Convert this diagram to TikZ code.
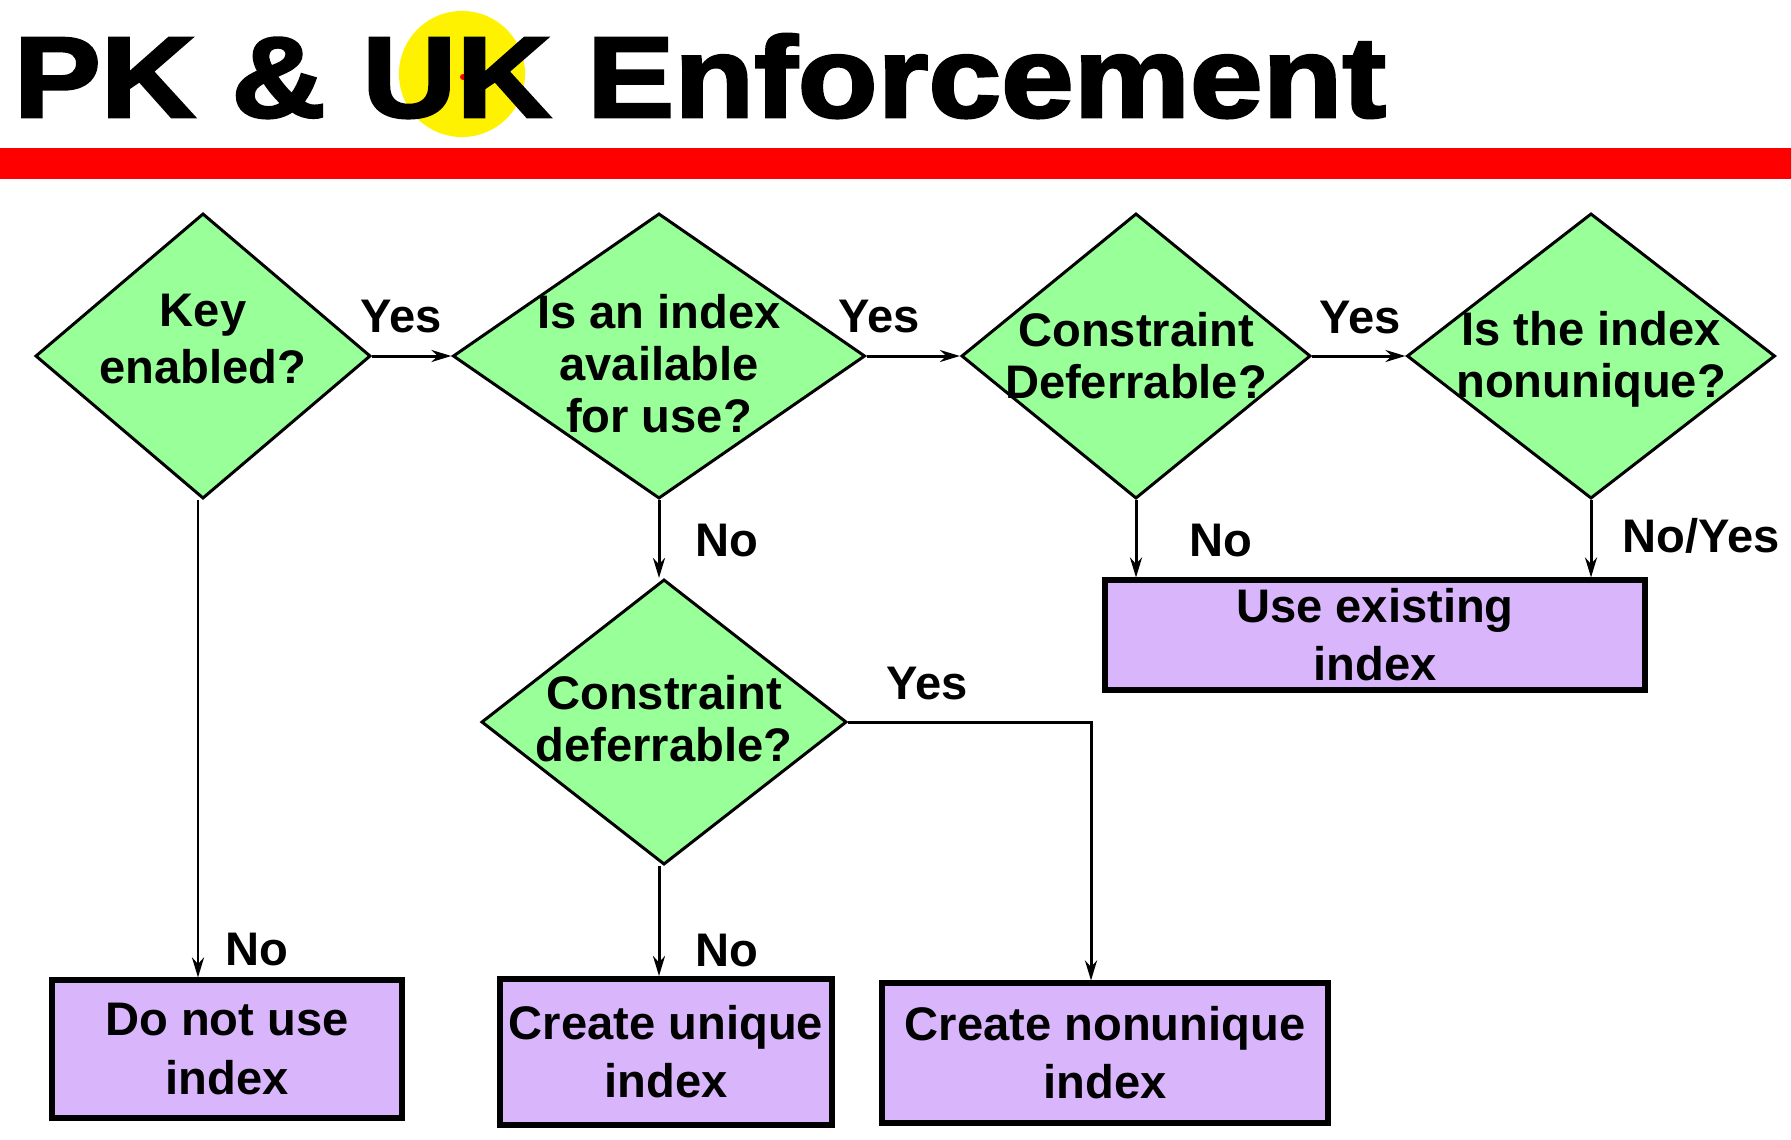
\documentclass[tikz,border=0pt]{standalone}
\usepackage{fontspec}
\setmainfont{Liberation Sans}
\newfontfamily\titlefont{Liberation Sans}[FakeStretch=1.14, BoldFeatures={FakeBold=2.5}]
\usepackage{xcolor}
\usetikzlibrary{shapes.geometric,arrows.meta,positioning}

\definecolor{qgreen}{RGB}{153,255,153}
\definecolor{apurple}{RGB}{217,181,252}

\begin{document}
\begin{tikzpicture}[
    x=0.01cm, y=-0.01cm,
    question/.style={draw, diamond, fill=qgreen, line width=0.85pt, inner sep=0pt, minimum height=2.85cm},
    qtext/.style={shape=rectangle, draw=none, fill=none, minimum size=0pt, align=center, inner sep=0pt, font=\fontsize{13.4}{14.8}\selectfont\bfseries},
    action/.style={draw, rectangle, fill=apurple, line width=1.7pt, align=center, inner sep=0pt, font=\fontsize{13.4}{16.5}\selectfont\bfseries},
    lbl/.style={inner sep=0pt, font=\fontsize{13.4}{16}\selectfont\bfseries},
    arrow/.style={-{Stealth[length=0.2cm,width=0.12cm]}, line width=0.85pt}
]
    \fill[white] (0,0) rectangle (1791,1139);
    \useasboundingbox (0,0) rectangle (1791,1139);

    % title
    \fill[yellow] (462,74) circle[radius=0.63cm];
    \fill[red] (463,77) circle[radius=0.03cm];
    \node[anchor=base west, inner sep=0pt, font=\titlefont\fontsize{32.6}{36}\selectfont\bfseries] (title) at (13,117) {PK \& UK Enforcement};
    \fill[red] (0,148) rectangle (1791,179);

    % decisions
    \node[question, minimum width=3.35cm, label={[qtext, font=\fontsize{13.4}{16}\selectfont\bfseries, yshift=0.17cm]center:Key\\enabled?}] (keyq) at (203,356) {};
    \node[question, minimum width=4.12cm, label={[qtext, yshift=-0.075cm]center:Is an index\\available\\for use?}] (idxq) at (659,356) {};
    \node[question, minimum width=3.49cm, label={[qtext]center:Constraint\\Deferrable?}] (defq) at (1136,356) {};
    \node[question, minimum width=3.68cm, label={[qtext, yshift=-0.03cm]center:Is the index\\nonunique?}] (nonuq) at (1591,356) {};
    \node[question, minimum width=3.65cm, label={[qtext, yshift=0.035cm]center:Constraint\\deferrable?}] (defq2) at (664,722) {};

    % actions
    \node[action, minimum width=3.5cm, minimum height=1.37cm] (noidx) at (227,1049) {Do not use\\index};
    \node[action, minimum width=3.32cm, minimum height=1.46cm] (mkuniq) at (666,1052) {Create unique\\index};
    \node[action, minimum width=4.46cm, minimum height=1.39cm] (mknonuq) at (1105,1053) {Create nonunique\\index};
    \node[action, minimum width=5.4cm, minimum height=1.09cm] (useidx) at (1375,635) {Use existing\\index};

    % connectors
    \draw[arrow] (keyq.east) -- (idxq.west);
    \draw[arrow] (idxq.east) -- (defq.west);
    \draw[arrow] (defq.east) -- (nonuq.west);
    \draw[arrow] (idxq.south) -- (idxq.south |- defq2.north);
    \draw[arrow] ([xshift=-0.05cm]keyq.south) -- ([xshift=-0.05cm]keyq.south |- noidx.north);
    \draw[arrow] ([xshift=-0.05cm]defq2.south) -- ([xshift=-0.05cm]defq2.south |- mkuniq.north);
    \coordinate (bend) at (1091,722);
    \draw[arrow] (defq2.east) -- (bend) -- (bend |- mknonuq.north);
    \draw[arrow] (defq.south) -- (defq.south |- useidx.north);
    \draw[arrow] (nonuq.south) -- (nonuq.south |- useidx.north);

    % branch labels
    \node[lbl] (yes1) at (401,317) {Yes};
    \node[lbl] (yes2) at (879,317) {Yes};
    \node[lbl] (yes3) at (1360,318) {Yes};
    \node[lbl] (yes4) at (927,684) {Yes};
    \node[lbl] (no1) at (257,950) {No};
    \node[lbl] (no2) at (727,541) {No};
    \node[lbl] (no3) at (727,951) {No};
    \node[lbl] (no4) at (1221,541) {No};
    \node[lbl] (noyes) at (1701,536) {No/Yes};
\end{tikzpicture}
\end{document}
